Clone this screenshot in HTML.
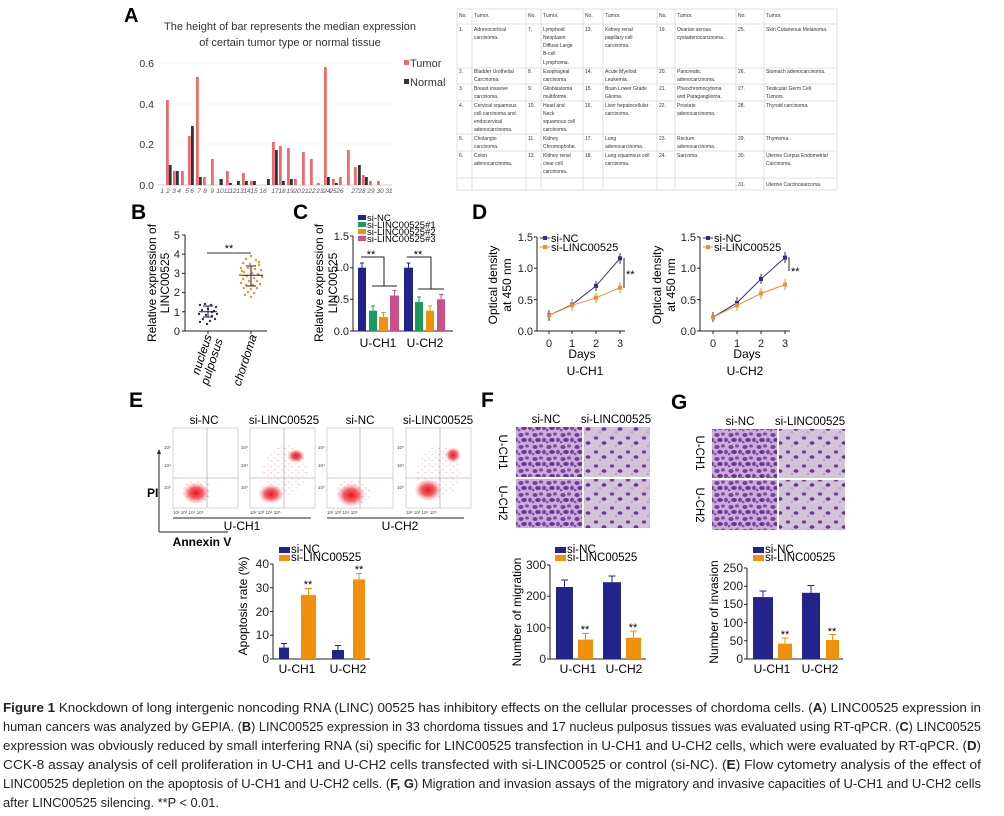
<!DOCTYPE html>
<html><head><meta charset="utf-8"><style>
body{margin:0;background:#fff}
svg{display:block;font-family:"Liberation Sans",sans-serif}
.t{font-size:11px;fill:#222}
.tb{font-size:5px;fill:#333}
</style></head><body>
<svg width="1004" height="816" viewBox="0 0 1004 816" xmlns="http://www.w3.org/2000/svg">
<defs>
<pattern id="cellsA" width="14" height="12" patternUnits="userSpaceOnUse">
<rect width="14" height="12" fill="#c7b0d2"/>
<ellipse cx="3" cy="3" rx="2.6" ry="2" fill="#7b3aa8"/><ellipse cx="9" cy="2" rx="2" ry="1.6" fill="#8a45b5"/>
<ellipse cx="6" cy="8" rx="2.8" ry="2" fill="#6e2e9c"/><ellipse cx="12" cy="8" rx="2" ry="2.2" fill="#7f3fae"/>
<ellipse cx="1" cy="10" rx="1.5" ry="1.3" fill="#8a4ab8"/>
</pattern>
<pattern id="cellsB" width="16" height="14" patternUnits="userSpaceOnUse">
<rect width="16" height="14" fill="#d3c3d8"/>
<ellipse cx="4" cy="4" rx="2.2" ry="1.6" fill="#7a3aa6"/><ellipse cx="12" cy="9" rx="2.4" ry="1.8" fill="#6f2f9a"/>
<circle cx="8" cy="12" r="0.8" fill="#9c6cb8"/>
</pattern>
<radialGradient id="blob"><stop offset="0" stop-color="#e8141c"/><stop offset="0.5" stop-color="#f0464c" stop-opacity="0.85"/><stop offset="1" stop-color="#f6a0a0" stop-opacity="0"/></radialGradient>
<pattern id="speck" width="7" height="6" patternUnits="userSpaceOnUse"><circle cx="2" cy="2" r="0.5" fill="#e83030"/><circle cx="5" cy="4.5" r="0.5" fill="#e83030"/></pattern>
</defs>

<!-- Panel A -->
<text x="124" y="22" font-size="20" font-weight="bold">A</text>
<text x="290" y="30" font-size="11" fill="#333" text-anchor="middle">The height of bar represents the median expression</text>
<text x="290" y="46" font-size="11" fill="#333" text-anchor="middle">of certain tumor type or normal tissue</text>
<g stroke="#eee" stroke-width="0.6"><line x1="158" y1="63" x2="392" y2="63"/><line x1="158" y1="104" x2="392" y2="104"/><line x1="158" y1="144" x2="392" y2="144"/></g>
<line x1="158" y1="185" x2="392" y2="185" stroke="#bbb" stroke-width="0.8"/>
<g class="t" text-anchor="end" style="font-size:10.5px;fill:#333"><text x="154" y="67">0.6</text><text x="154" y="108">0.4</text><text x="154" y="148">0.2</text><text x="154" y="189">0.0</text></g>
<g fill="#ef6a6e">
<rect x="166" y="100" width="2.8" height="85"/><rect x="173" y="171" width="2.8" height="14"/><rect x="181" y="171" width="2.8" height="14"/>
<rect x="188" y="136" width="2.8" height="49"/><rect x="196" y="77" width="2.8" height="108"/><rect x="203" y="177" width="2.8" height="8"/>
<rect x="211" y="159" width="2.8" height="26"/><rect x="219" y="179" width="2.8" height="6"/><rect x="226" y="171" width="2.8" height="14"/>
<rect x="242" y="173" width="2.8" height="12"/><rect x="250" y="181" width="2.8" height="4"/>
<rect x="272" y="142" width="2.8" height="43"/><rect x="279" y="146" width="2.8" height="39"/><rect x="287" y="148" width="2.8" height="37"/>
<rect x="294" y="179" width="2.8" height="6"/><rect x="302" y="152" width="2.8" height="33"/><rect x="310" y="159" width="2.8" height="26"/>
<rect x="317" y="183" width="2.8" height="2"/><rect x="324" y="67" width="2.8" height="118"/><rect x="332" y="179" width="2.8" height="6"/>
<rect x="339" y="177" width="2.8" height="8"/><rect x="347" y="150" width="2.8" height="35"/><rect x="354" y="167" width="2.8" height="18"/>
<rect x="362" y="175" width="2.8" height="10"/><rect x="369" y="181" width="2.8" height="4"/><rect x="377" y="181" width="2.8" height="4"/>
</g>
<g fill="#333">
<rect x="168.8" y="165" width="2.8" height="20"/><rect x="176" y="171" width="2.8" height="14"/><rect x="191" y="126" width="2.8" height="59"/>
<rect x="199" y="177" width="2.8" height="8"/><rect x="220" y="179" width="2.8" height="6"/><rect x="229" y="183" width="2.8" height="2"/>
<rect x="237" y="181" width="2.8" height="4"/><rect x="245" y="181" width="2.8" height="4"/><rect x="253" y="181" width="2.8" height="4"/>
<rect x="267" y="179" width="2.8" height="6"/><rect x="275" y="150" width="2.8" height="35"/><rect x="282" y="181" width="2.8" height="4"/>
<rect x="290" y="179" width="2.8" height="6"/><rect x="327" y="177" width="2.8" height="8"/><rect x="335" y="183" width="2.8" height="2"/>
<rect x="358" y="165" width="2.8" height="20"/><rect x="365" y="177" width="2.8" height="8"/>
</g>
<g font-size="6.5" fill="#555" font-style="italic" text-anchor="middle">
<text x="162" y="193">1</text><text x="168" y="193">2</text><text x="174" y="193">3</text><text x="179" y="193">4</text><text x="187" y="193">5</text><text x="192" y="193">6</text><text x="199" y="193">7</text><text x="205" y="193">8</text><text x="212" y="193">9</text><text x="220" y="193">10</text><text x="227" y="193">11</text><text x="233" y="193">12</text><text x="240" y="193">13</text><text x="247" y="193">14</text><text x="254" y="193">15</text><text x="263" y="193">16</text><text x="275" y="193">17</text><text x="282" y="193">18</text><text x="290" y="193">19</text><text x="297" y="193">20</text><text x="305" y="193">21</text><text x="312" y="193">22</text><text x="320" y="193">23</text><text x="327" y="193">24</text><text x="333" y="193">25</text><text x="340" y="193">26</text><text x="355" y="193">27</text><text x="362" y="193">28</text><text x="371" y="193">29</text><text x="380" y="193">30</text><text x="389" y="193">31</text>
</g>
<rect x="404" y="60" width="5" height="5" fill="#ef6a6e"/><text x="410" y="67" font-size="11" fill="#333">Tumor</text>
<rect x="404" y="79" width="5" height="5" fill="#333"/><text x="410" y="86" font-size="11" fill="#333">Normal</text>

<!-- Table -->
<g stroke="#d6d6dc" stroke-width="0.7" fill="none">
<rect x="457" y="9" width="380" height="181"/>
<line x1="472" y1="9" x2="472" y2="190"/><line x1="526" y1="9" x2="526" y2="190"/><line x1="541" y1="9" x2="541" y2="190"/><line x1="583" y1="9" x2="583" y2="190"/><line x1="603" y1="9" x2="603" y2="190"/><line x1="657" y1="9" x2="657" y2="190"/><line x1="675" y1="9" x2="675" y2="190"/><line x1="736" y1="9" x2="736" y2="190"/><line x1="764" y1="9" x2="764" y2="190"/>
<line x1="457" y1="24" x2="837" y2="24"/><line x1="457" y1="68" x2="837" y2="68"/><line x1="457" y1="84" x2="837" y2="84"/><line x1="457" y1="101" x2="837" y2="101"/><line x1="457" y1="134" x2="837" y2="134"/><line x1="457" y1="151" x2="837" y2="151"/><line x1="457" y1="178" x2="837" y2="178"/>
</g>
<g class="tb">
<text x="459" y="17">No.</text><text x="474" y="17">Tumor.</text><text x="528" y="17">No.</text><text x="543" y="17">Tumor.</text><text x="585" y="17">No.</text><text x="605" y="17">Tumor.</text><text x="659" y="17">No.</text><text x="677" y="17">Tumor.</text><text x="738" y="17">No.</text><text x="766" y="17">Tumor.</text>
<text x="459" y="31">1.</text><text x="474" y="31">Adrenocortical</text><text x="474" y="39">carcinoma.</text>
<text x="528" y="31">7.</text><text x="543" y="31">Lymphoid</text><text x="543" y="39">Neoplasm</text><text x="543" y="47">Diffuse Large</text><text x="543" y="55">B-cell</text><text x="543" y="64">Lymphoma.</text>
<text x="585" y="31">13.</text><text x="605" y="31">Kidney renal</text><text x="605" y="39">papillary cell</text><text x="605" y="47">carcinoma.</text>
<text x="659" y="31">19.</text><text x="677" y="31">Ovarian serous</text><text x="677" y="39">cystadenocarcinoma.</text>
<text x="738" y="31">25.</text><text x="766" y="31">Skin Cutaneous Melanoma.</text>
<text x="459" y="73">2.</text><text x="474" y="73">Bladder Urothelial</text><text x="474" y="81">Carcinoma.</text>
<text x="528" y="73">8.</text><text x="543" y="73">Esophageal</text><text x="543" y="81">carcinoma.</text>
<text x="585" y="73">14.</text><text x="605" y="73">Acute Myeloid</text><text x="605" y="81">Leukemia.</text>
<text x="659" y="73">20.</text><text x="677" y="73">Pancreatic</text><text x="677" y="81">adenocarcinoma.</text>
<text x="738" y="73">26.</text><text x="766" y="73">Stomach adenocarcinoma.</text>
<text x="459" y="90">3.</text><text x="474" y="90">Breast invasive</text><text x="474" y="98">carcinoma.</text>
<text x="528" y="90">9.</text><text x="543" y="90">Glioblastoma</text><text x="543" y="98">multiforme.</text>
<text x="585" y="90">15.</text><text x="605" y="90">Brain Lower Grade</text><text x="605" y="98">Glioma.</text>
<text x="659" y="90">21.</text><text x="677" y="90">Pheochromocytoma</text><text x="677" y="98">and Paraganglioma.</text>
<text x="738" y="90">27.</text><text x="766" y="90">Testicular Germ Cell</text><text x="766" y="98">Tumors.</text>
<text x="459" y="107">4.</text><text x="474" y="107">Cervical squamous</text><text x="474" y="115">cell carcinoma and</text><text x="474" y="123">endocervical</text><text x="474" y="131">adenocarcinoma.</text>
<text x="528" y="107">10.</text><text x="543" y="107">Head and</text><text x="543" y="115">Neck</text><text x="543" y="123">squamous cell</text><text x="543" y="131">carcinoma.</text>
<text x="585" y="107">16.</text><text x="605" y="107">Liver hepatocellular</text><text x="605" y="115">carcinoma.</text>
<text x="659" y="107">22.</text><text x="677" y="107">Prostate</text><text x="677" y="115">adenocarcinoma.</text>
<text x="738" y="107">28.</text><text x="766" y="107">Thyroid carcinoma.</text>
<text x="459" y="140">5.</text><text x="474" y="140">Cholangio</text><text x="474" y="148">carcinoma.</text>
<text x="528" y="140">11.</text><text x="543" y="140">Kidney</text><text x="543" y="148">Chromophobe.</text>
<text x="585" y="140">17.</text><text x="605" y="140">Lung</text><text x="605" y="148">adenocarcinoma.</text>
<text x="659" y="140">23.</text><text x="677" y="140">Rectum</text><text x="677" y="148">adenocarcinoma.</text>
<text x="738" y="140">29.</text><text x="766" y="140">Thymoma.</text>
<text x="459" y="157">6.</text><text x="474" y="157">Colon</text><text x="474" y="165">adenocarcinoma.</text>
<text x="528" y="157">12.</text><text x="543" y="157">Kidney renal</text><text x="543" y="165">clear cell</text><text x="543" y="173">carcinoma.</text>
<text x="585" y="157">18.</text><text x="605" y="157">Lung squamous cell</text><text x="605" y="165">carcinoma.</text>
<text x="659" y="157">24.</text><text x="677" y="157">Sarcoma.</text>
<text x="738" y="157">30.</text><text x="766" y="157">Uterine Corpus Endometrial</text><text x="766" y="165">Carcinoma.</text>
<text x="738" y="186">31.</text><text x="766" y="186">Uterine Carcinosarcoma.</text>
</g>

<!-- Panel B -->
<text x="131" y="219" font-size="21" font-weight="bold">B</text>
<g stroke="#222" stroke-width="1" fill="none"><path d="M185 235V331H267"/>
<path d="M182 235H185M182 254.2H185M182 273.4H185M182 292.6H185M182 311.8H185M182 331H185M208 331v3M251 331v3"/></g>
<g class="t" text-anchor="end"><text x="180" y="239">5</text><text x="180" y="258">4</text><text x="180" y="277">3</text><text x="180" y="296">2</text><text x="180" y="316">1</text><text x="180" y="335">0</text></g>
<text transform="translate(156,283) rotate(-90)" font-size="12" text-anchor="middle">Relative expression of</text>
<text transform="translate(169,283) rotate(-90)" font-size="12" text-anchor="middle">LINC00525</text>
<line x1="207" y1="253" x2="251" y2="253" stroke="#333"/><text x="229" y="252" font-size="11" text-anchor="middle">**</text>
<g fill="#2a2f7a">
<circle cx="200" cy="305" r="1.2"/><circle cx="205" cy="304" r="1.2"/><circle cx="211" cy="305" r="1.2"/><circle cx="216" cy="307" r="1.2"/><circle cx="202" cy="310" r="1.2"/><circle cx="208" cy="309" r="1.2"/><circle cx="214" cy="311" r="1.2"/><circle cx="199" cy="314" r="1.2"/><circle cx="206" cy="315" r="1.2"/><circle cx="212" cy="316" r="1.2"/><circle cx="217" cy="314" r="1.2"/><circle cx="203" cy="319" r="1.2"/><circle cx="210" cy="321" r="1.2"/><circle cx="200" cy="322" r="1.2"/><circle cx="215" cy="319" r="1.2"/><circle cx="207" cy="324" r="1.2"/><circle cx="212" cy="312" r="1.2"/>
</g>
<path d="M199 311.8H217M208 306V317M203 306h10M203 317h10" stroke="#222" fill="none"/>
<g fill="#f0922a">
<circle cx="251" cy="256" r="1.2"/><circle cx="246" cy="259" r="1.2"/><circle cx="256" cy="260" r="1.2"/><circle cx="243" cy="263" r="1.2"/><circle cx="250" cy="264" r="1.2"/><circle cx="259" cy="265" r="1.2"/><circle cx="241" cy="268" r="1.2"/><circle cx="248" cy="268" r="1.2"/><circle cx="255" cy="269" r="1.2"/><circle cx="261" cy="270" r="1.2"/><circle cx="244" cy="272" r="1.2"/><circle cx="252" cy="273" r="1.2"/><circle cx="258" cy="274" r="1.2"/><circle cx="240" cy="275" r="1.2"/><circle cx="247" cy="276" r="1.2"/><circle cx="262" cy="277" r="1.2"/><circle cx="254" cy="278" r="1.2"/><circle cx="243" cy="279" r="1.2"/><circle cx="249" cy="281" r="1.2"/><circle cx="257" cy="281" r="1.2"/><circle cx="241" cy="283" r="1.2"/><circle cx="246" cy="285" r="1.2"/><circle cx="253" cy="285" r="1.2"/><circle cx="260" cy="284" r="1.2"/><circle cx="244" cy="288" r="1.2"/><circle cx="251" cy="289" r="1.2"/><circle cx="257" cy="288" r="1.2"/><circle cx="248" cy="292" r="1.2"/><circle cx="254" cy="293" r="1.2"/><circle cx="245" cy="295" r="1.2"/><circle cx="251" cy="297" r="1.2"/><circle cx="242" cy="271" r="1.2"/><circle cx="259" cy="262" r="1.2"/>
</g>
<path d="M241 275.3H263M251 266V286M246 266h10M246 286h10" stroke="#222" fill="none"/>
<text transform="translate(212,336) rotate(-72)" font-size="12" font-style="italic" text-anchor="end">nucleus</text>
<text transform="translate(223,340) rotate(-72)" font-size="12" font-style="italic" text-anchor="end">pulposus</text>
<text transform="translate(257,336) rotate(-72)" font-size="12" font-style="italic" text-anchor="end">chordoma</text>

<!-- Panel C -->
<text x="293" y="219" font-size="21" font-weight="bold">C</text>
<g stroke="#222" stroke-width="1" fill="none"><path d="M353 236V331H453"/><path d="M350 236H353M350 267.7H353M350 299.3H353M350 331H353"/></g>
<g class="t" text-anchor="end"><text x="349" y="240">1.5</text><text x="349" y="271">1.0</text><text x="349" y="303">0.5</text><text x="349" y="335">0.0</text></g>
<text transform="translate(323,283) rotate(-90)" font-size="12" text-anchor="middle">Relative expression of</text>
<text transform="translate(337,283) rotate(-90)" font-size="12" text-anchor="middle">LINC00525</text>
<g font-size="9.5">
<rect x="358" y="215" width="8" height="5" fill="#23238c"/><text x="367" y="221">si-NC</text>
<rect x="358" y="222" width="8" height="5" fill="#1c9a5e"/><text x="367" y="228">si-LINC00525#1</text>
<rect x="358" y="229" width="8" height="5" fill="#f0900c"/><text x="367" y="235">si-LINC00525#2</text>
<rect x="358" y="236" width="8" height="5" fill="#c8508c"/><text x="367" y="242">si-LINC00525#3</text>
</g>
<g stroke-width="1">
<rect x="358" y="267.7" width="8" height="63.3" fill="#23238c"/><path d="M362 267.7V263M360 263h4" stroke="#23238c"/>
<rect x="369" y="310.7" width="8" height="20.3" fill="#1c9a5e"/><path d="M373 310.7V306M371 306h4" stroke="#1c9a5e"/>
<rect x="379" y="317" width="9" height="14" fill="#f0900c"/><path d="M383.5 317V312.5M381.5 312.5h4" stroke="#f0900c"/>
<rect x="390" y="295.5" width="9" height="35.5" fill="#c8508c"/><path d="M394.5 295.5V290.5M392.5 290.5h4" stroke="#c8508c"/>
<rect x="404" y="267.7" width="9" height="63.3" fill="#23238c"/><path d="M408.5 267.7V263M406.5 263h4" stroke="#23238c"/>
<rect x="415" y="301.9" width="8" height="29.1" fill="#1c9a5e"/><path d="M419 301.9V297M417 297h4" stroke="#1c9a5e"/>
<rect x="426" y="310.7" width="8" height="20.3" fill="#f0900c"/><path d="M430 310.7V306M428 306h4" stroke="#f0900c"/>
<rect x="437" y="299.3" width="8" height="31.7" fill="#c8508c"/><path d="M441 299.3V294.5M439 294.5h4" stroke="#c8508c"/>
</g>
<path d="M361 257H384V286M372 286H397M407 257H431V289M418 289H444" stroke="#222" fill="none"/>
<text x="371" y="258" font-size="11" text-anchor="middle">**</text><text x="418" y="258" font-size="11" text-anchor="middle">**</text>
<text x="378" y="347" font-size="12" text-anchor="middle">U-CH1</text><text x="425" y="347" font-size="12" text-anchor="middle">U-CH2</text>

<!-- Panel D -->
<text x="472" y="219" font-size="21" font-weight="bold">D</text>
<g stroke="#222" stroke-width="1" fill="none">
<path d="M537 237V331H625"/><path d="M534 237H537M534 268.3H537M534 299.6H537M534 331H537M549 331v3M572 331v3M596 331v3M620 331v3"/>
<path d="M700 237V331H790"/><path d="M697 237H700M697 268.3H700M697 299.6H700M697 331H700M713 331v3M737 331v3M761 331v3M785 331v3"/>
</g>
<g class="t" text-anchor="end"><text x="533" y="241">1.5</text><text x="533" y="272">1.0</text><text x="533" y="304">0.5</text><text x="533" y="335">0.0</text>
<text x="696" y="241">1.5</text><text x="696" y="272">1.0</text><text x="696" y="304">0.5</text><text x="696" y="335">0.0</text></g>
<g class="t" text-anchor="middle"><text x="549" y="347">0</text><text x="572" y="347">1</text><text x="596" y="347">2</text><text x="620" y="347">3</text>
<text x="713" y="347">0</text><text x="737" y="347">1</text><text x="761" y="347">2</text><text x="785" y="347">3</text></g>
<text x="582" y="358" font-size="12" text-anchor="middle">Days</text><text x="585" y="375" font-size="12" text-anchor="middle">U-CH1</text>
<text x="747" y="358" font-size="12" text-anchor="middle">Days</text><text x="745" y="375" font-size="12" text-anchor="middle">U-CH2</text>
<text transform="translate(497,285) rotate(-90)" font-size="12" text-anchor="middle">Optical density</text>
<text transform="translate(511,285) rotate(-90)" font-size="12" text-anchor="middle">at 450 nm</text>
<text transform="translate(661,285) rotate(-90)" font-size="12" text-anchor="middle">Optical density</text>
<text transform="translate(675,285) rotate(-90)" font-size="12" text-anchor="middle">at 450 nm</text>
<g fill="none" stroke-width="1">
<polyline points="549,315.3 572,304.7 596,285.9 620,258.3" stroke="#2b2e8a"/>
<polyline points="549,315.3 572,305.3 596,297.8 620,287.7" stroke="#f08c2a"/>
<polyline points="713,317.2 737,302.8 761,279 785,257.6" stroke="#2b2e8a"/>
<polyline points="713,317.2 737,305.3 761,293.4 785,284.6" stroke="#f08c2a"/>
<path d="M549 310v11M572 299v12M596 281v10M620 253v11M713 312v10M737 297v12M761 274v10M785 252v11" stroke="#2b2e8a"/>
<path d="M572 300v11M596 293v10M620 282v11M737 300v11M761 288v11M785 279v11" stroke="#f08c2a"/>
<path d="M624 258V288M789 257V271" stroke="#222"/>
</g>
<g fill="#2b2e8a"><rect x="547" y="313" width="4" height="4"/><rect x="570" y="302.7" width="4" height="4"/><rect x="594" y="283.9" width="4" height="4"/><rect x="618" y="256.3" width="4" height="4"/>
<rect x="711" y="315.2" width="4" height="4"/><rect x="735" y="300.8" width="4" height="4"/><rect x="759" y="277" width="4" height="4"/><rect x="783" y="255.6" width="4" height="4"/></g>
<g fill="#f08c2a"><rect x="547" y="313.3" width="4" height="4"/><rect x="570" y="303.3" width="4" height="4"/><rect x="594" y="295.8" width="4" height="4"/><rect x="618" y="285.7" width="4" height="4"/>
<rect x="711" y="315.2" width="4" height="4"/><rect x="735" y="303.3" width="4" height="4"/><rect x="759" y="291.4" width="4" height="4"/><rect x="783" y="282.6" width="4" height="4"/></g>
<path d="M540 238h10M703 238h10" stroke-width="1" stroke="#2b2e8a"/>
<path d="M540 247h10M703 247h10" stroke-width="1" stroke="#f08c2a"/>
<rect x="543" y="236" width="4" height="4" fill="#2b2e8a"/><rect x="543" y="245" width="4" height="4" fill="#f08c2a"/>
<rect x="706" y="236" width="4" height="4" fill="#2b2e8a"/><rect x="706" y="245" width="4" height="4" fill="#f08c2a"/>
<text x="551" y="242" font-size="11">si-NC</text><text x="551" y="251" font-size="11">si-LINC00525</text>
<text x="714" y="242" font-size="11">si-NC</text><text x="714" y="251" font-size="11">si-LINC00525</text>
<text x="626" y="278" font-size="11">**</text><text x="791" y="275" font-size="11">**</text>

<!-- Panel E -->
<text x="129" y="407" font-size="21" font-weight="bold">E</text>
<g font-size="11.5" text-anchor="middle"><text x="204" y="424">si-NC</text><text x="284" y="424">si-LINC00525</text><text x="360" y="424">si-NC</text><text x="438" y="424">si-LINC00525</text></g>
<g stroke="#bbb" stroke-width="0.6" fill="#fff">
<rect x="173" y="428" width="65" height="80"/><rect x="250" y="428" width="65" height="80"/><rect x="327" y="428" width="66" height="80"/><rect x="406" y="428" width="65" height="80"/>
<path d="M207 428V508M173 478H238M284 428V508M250 478H315M360 428V508M327 478H393M440 428V508M406 478H471" stroke="#999"/>
</g>
<g>
<ellipse cx="197" cy="491" rx="15" ry="12" fill="url(#speck)" opacity="0.7"/>
<ellipse cx="196" cy="493" rx="14" ry="11" fill="url(#blob)"/>
<ellipse cx="285" cy="470" rx="22" ry="26" fill="url(#speck)" opacity="0.6"/>
<ellipse cx="271" cy="494" rx="13" ry="10" fill="url(#blob)"/>
<ellipse cx="296" cy="456" rx="9" ry="7" fill="url(#blob)"/>
<ellipse cx="353" cy="492" rx="17" ry="13" fill="url(#speck)" opacity="0.7"/>
<ellipse cx="351" cy="495" rx="15" ry="12" fill="url(#blob)"/>
<ellipse cx="438" cy="472" rx="22" ry="26" fill="url(#speck)" opacity="0.6"/>
<ellipse cx="428" cy="490" rx="14" ry="11" fill="url(#blob)"/>
<ellipse cx="453" cy="455" rx="8" ry="8" fill="url(#blob)"/>
</g>
<g font-size="4.5" fill="#444">
<text x="164" y="449">10⁵</text><text x="164" y="467">10⁴</text><text x="164" y="489">10³</text>
<text x="241" y="449">10⁵</text><text x="241" y="467">10⁴</text><text x="241" y="489">10³</text>
<text x="318" y="449">10⁵</text><text x="318" y="467">10⁴</text><text x="318" y="489">10³</text>
<text x="397" y="449">10⁵</text><text x="397" y="467">10⁴</text><text x="397" y="489">10³</text>
<text x="173" y="514">10² 10³ 10⁴ 10⁵</text><text x="250" y="514">10² 10³ 10⁴ 10⁵</text><text x="327" y="514">10² 10³ 10⁴ 10⁵</text><text x="406" y="514">10² 10³ 10⁴ 10⁵</text>
</g>
<path d="M173 518H311M327 518H464" stroke="#222"/>
<text x="242" y="530" font-size="12" text-anchor="middle">U-CH1</text><text x="400" y="530" font-size="12" text-anchor="middle">U-CH2</text>
<path d="M159 532V451M159 532H228" stroke="#222" fill="none"/><path d="M157 454L159 449L161 454Z" fill="#222"/>
<text x="147" y="497" font-size="12" font-weight="bold">PI</text>
<text x="202" y="546" font-size="12" font-weight="bold" text-anchor="middle">Annexin V</text>
<rect x="279" y="547" width="11" height="6" fill="#23238c"/><text x="291" y="553" font-size="11.5">si-NC</text>
<rect x="279" y="555" width="11" height="6" fill="#f0900c"/><text x="291" y="561" font-size="11.5">si-LINC00525</text>
<g stroke="#222" fill="none"><path d="M273 564V659H370"/><path d="M270 564H273M270 587.8H273M270 611.5H273M270 635.3H273M270 659H273"/></g>
<g class="t" text-anchor="end" style="font-size:12px"><text x="269" y="568">40</text><text x="269" y="592">30</text><text x="269" y="616">20</text><text x="269" y="639">10</text><text x="269" y="663">0</text></g>
<text transform="translate(247,606) rotate(-90)" font-size="12" text-anchor="middle">Apoptosis rate (%)</text>
<rect x="279" y="647.6" width="10" height="11.4" fill="#23238c"/><path d="M284 647.6V643.5M281 643.5h6" stroke="#23238c"/>
<rect x="301" y="594.9" width="15" height="64.1" fill="#f0900c"/><path d="M308.5 594.9V588.5M305 588.5h7" stroke="#f0900c"/>
<rect x="332" y="650" width="12" height="9" fill="#23238c"/><path d="M338 650V645.5M335 645.5h6" stroke="#23238c"/>
<rect x="353" y="579.4" width="12" height="79.6" fill="#f0900c"/><path d="M359 579.4V573.5M356 573.5h6" stroke="#f0900c"/>
<text x="308" y="588" font-size="11" text-anchor="middle">**</text><text x="359" y="573" font-size="11" text-anchor="middle">**</text>
<text x="297" y="673" font-size="12" text-anchor="middle">U-CH1</text><text x="348" y="673" font-size="12" text-anchor="middle">U-CH2</text>

<!-- Panel F -->
<text x="481" y="407" font-size="21" font-weight="bold">F</text>
<text x="546" y="423" font-size="11.5" text-anchor="middle">si-NC</text><text x="616" y="423" font-size="11.5" text-anchor="middle">si-LINC00525</text>
<rect x="516" y="427" width="66" height="50" fill="url(#cellsA)"/><rect x="584" y="427" width="66" height="50" fill="url(#cellsB)"/>
<rect x="516" y="479" width="66" height="49" fill="url(#cellsA)"/><rect x="584" y="479" width="66" height="49" fill="url(#cellsB)"/>
<text transform="translate(499,452) rotate(90)" font-size="11.5" text-anchor="middle">U-CH1</text>
<text transform="translate(499,503) rotate(90)" font-size="11.5" text-anchor="middle">U-CH2</text>
<rect x="555" y="547" width="11" height="6" fill="#23238c"/><text x="567" y="553" font-size="11.5">si-NC</text>
<rect x="555" y="555" width="11" height="6" fill="#f0900c"/><text x="567" y="561" font-size="11.5">si-LINC00525</text>
<g stroke="#222" fill="none"><path d="M550 565V659H646"/><path d="M547 565H550M547 596.3H550M547 627.7H550M547 659H550"/></g>
<g class="t" text-anchor="end" style="font-size:12px"><text x="546" y="569">300</text><text x="546" y="600">200</text><text x="546" y="632">100</text><text x="546" y="663">0</text></g>
<text transform="translate(521,612) rotate(-90)" font-size="12" text-anchor="middle">Number of migration</text>
<rect x="556" y="587" width="17" height="72" fill="#23238c"/><path d="M564.5 587V580M561 580h7" stroke="#23238c"/>
<rect x="578" y="639.6" width="15" height="19.4" fill="#f0900c"/><path d="M585.5 639.6V633.5M582 633.5h7" stroke="#f0900c"/>
<rect x="603" y="582.2" width="18" height="76.8" fill="#23238c"/><path d="M612 582.2V576M608.5 576h7" stroke="#23238c"/>
<rect x="626" y="637.7" width="15" height="21.3" fill="#f0900c"/><path d="M633.5 637.7V631M630 631h7" stroke="#f0900c"/>
<text x="585" y="633" font-size="11" text-anchor="middle">**</text><text x="633" y="631" font-size="11" text-anchor="middle">**</text>
<text x="578" y="673" font-size="12" text-anchor="middle">U-CH1</text><text x="624" y="673" font-size="12" text-anchor="middle">U-CH2</text>

<!-- Panel G -->
<text x="671" y="409" font-size="21" font-weight="bold">G</text>
<text x="740" y="425" font-size="11.5" text-anchor="middle">si-NC</text><text x="810" y="425" font-size="11.5" text-anchor="middle">si-LINC00525</text>
<rect x="712" y="429" width="65" height="49" fill="url(#cellsA)"/><rect x="779" y="429" width="66" height="49" fill="url(#cellsB)"/>
<rect x="712" y="480" width="65" height="50" fill="url(#cellsA)"/><rect x="779" y="480" width="66" height="50" fill="url(#cellsB)"/>
<text transform="translate(696,453) rotate(90)" font-size="11.5" text-anchor="middle">U-CH1</text>
<text transform="translate(696,505) rotate(90)" font-size="11.5" text-anchor="middle">U-CH2</text>
<rect x="753" y="547" width="11" height="6" fill="#23238c"/><text x="765" y="553" font-size="11.5">si-NC</text>
<rect x="753" y="555" width="11" height="6" fill="#f0900c"/><text x="765" y="561" font-size="11.5">si-LINC00525</text>
<g stroke="#222" fill="none"><path d="M747 568V659H843"/><path d="M744 568H747M744 586.2H747M744 604.4H747M744 622.6H747M744 640.8H747M744 659H747"/></g>
<g class="t" text-anchor="end" style="font-size:12px"><text x="743" y="572">250</text><text x="743" y="590">200</text><text x="743" y="608">150</text><text x="743" y="627">100</text><text x="743" y="645">50</text><text x="743" y="663">0</text></g>
<text transform="translate(718,612) rotate(-90)" font-size="12" text-anchor="middle">Number of invasion</text>
<rect x="753" y="597.1" width="20" height="61.9" fill="#23238c"/><path d="M763 597.1V591M759.5 591h7" stroke="#23238c"/>
<rect x="778" y="643.7" width="14" height="15.3" fill="#f0900c"/><path d="M785 643.7V638M781.5 638h7" stroke="#f0900c"/>
<rect x="802" y="592.8" width="18" height="66.2" fill="#23238c"/><path d="M811 592.8V585.5M807.5 585.5h7" stroke="#23238c"/>
<rect x="826" y="640" width="13" height="19" fill="#f0900c"/><path d="M832.5 640V634.5M829 634.5h7" stroke="#f0900c"/>
<text x="785" y="638" font-size="11" text-anchor="middle">**</text><text x="832" y="635" font-size="11" text-anchor="middle">**</text>
<text x="772" y="673" font-size="12" text-anchor="middle">U-CH1</text><text x="820" y="673" font-size="12" text-anchor="middle">U-CH2</text>

<!-- Caption -->
<g font-size="12.5" fill="#222">
<text x="3" y="712" textLength="978" lengthAdjust="spacingAndGlyphs"><tspan font-weight="bold">Figure 1</tspan> Knockdown of long intergenic noncoding RNA (LINC) 00525 has inhibitory effects on the cellular processes of chordoma cells. (<tspan font-weight="bold">A</tspan>) LINC00525 expression in</text>
<text x="3" y="731" textLength="978" lengthAdjust="spacingAndGlyphs">human cancers was analyzed by GEPIA. (<tspan font-weight="bold">B</tspan>) LINC00525 expression in 33 chordoma tissues and 17 nucleus pulposus tissues was evaluated using RT-qPCR. (<tspan font-weight="bold">C</tspan>) LINC00525</text>
<text x="3" y="750" textLength="978" lengthAdjust="spacingAndGlyphs">expression was obviously reduced by small interfering RNA (si) specific for LINC00525 transfection in U-CH1 and U-CH2 cells, which were evaluated by RT-qPCR. (<tspan font-weight="bold">D</tspan>)</text>
<text x="3" y="769" textLength="978" lengthAdjust="spacingAndGlyphs">CCK-8 assay analysis of cell proliferation in U-CH1 and U-CH2 cells transfected with si-LINC00525 or control (si-NC). (<tspan font-weight="bold">E</tspan>) Flow cytometry analysis of the effect of</text>
<text x="3" y="788" textLength="978" lengthAdjust="spacingAndGlyphs">LINC00525 depletion on the apoptosis of U-CH1 and U-CH2 cells. (<tspan font-weight="bold">F, G</tspan>) Migration and invasion assays of the migratory and invasive capacities of U-CH1 and U-CH2 cells</text>
<text x="3" y="807" textLength="216" lengthAdjust="spacingAndGlyphs">after LINC00525 silencing. **P &lt; 0.01.</text>
</g>
</svg>
</body></html>
